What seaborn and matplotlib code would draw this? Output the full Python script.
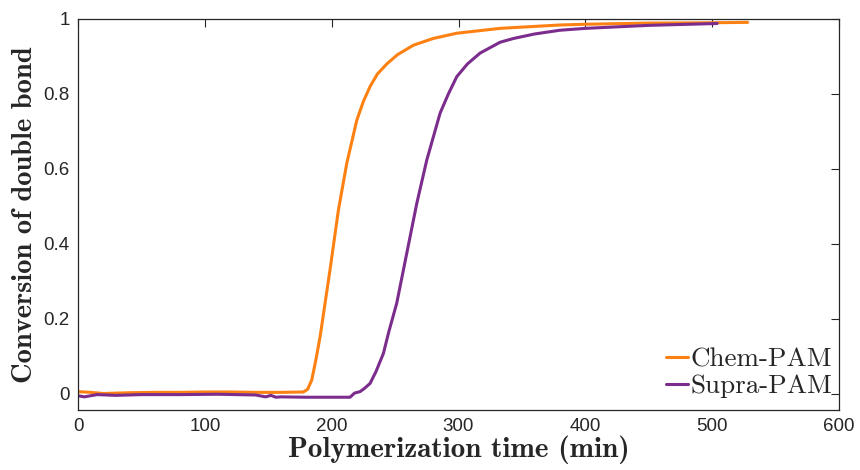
import numpy as np
import pandas as pd
import matplotlib
matplotlib.use('Agg')
import matplotlib.pyplot as plt
import seaborn as sns
from matplotlib.lines import Line2D

# ---------- data ----------
chem_time = [0, 10, 20, 40, 60, 80, 100, 120, 140, 160, 177.7, 181, 184.3, 187.5,
             190.9, 198.7, 205.3, 211.9, 219.8, 225, 230.3, 236, 243.4, 252, 264.4,
             280, 298.6, 332.8, 380, 400, 450, 500, 528]
chem_conv = [0.006, 0.004, 0.001, 0.003, 0.004, 0.004, 0.005, 0.005, 0.004, 0.004,
             0.005, 0.012, 0.037, 0.09, 0.153, 0.331, 0.49, 0.615, 0.73, 0.78,
             0.82, 0.853, 0.88, 0.905, 0.93, 0.948, 0.962, 0.975, 0.984, 0.986,
             0.989, 0.99, 0.991]

supra_time = [0, 5, 15, 30, 50, 80, 110, 140, 148, 152, 156, 160, 180, 200, 214.5,
              218, 222.4, 226, 230.3, 235, 240.8, 245, 251.3, 259.2, 267.1, 275,
              285.5, 292, 298.6, 307, 317, 332.8, 343.3, 360, 380, 400, 450, 504]
supra_conv = [-0.005, -0.008, -0.002, -0.004, -0.002, -0.002, -0.001, -0.003, -0.008,
              -0.004, -0.009, -0.008, -0.009, -0.009, -0.009, 0.002, 0.006, 0.015,
              0.028, 0.06, 0.108, 0.165, 0.242, 0.375, 0.508, 0.624, 0.749, 0.80,
              0.846, 0.88, 0.909, 0.938, 0.948, 0.96, 0.97, 0.975, 0.983, 0.988]

labels = ['Chem-PAM', 'Supra-PAM']
colors = ['#fd8112', '#7b2c8c']

df = pd.concat([
    pd.DataFrame({'time': chem_time, 'conv': chem_conv, 'sample': labels[0]}),
    pd.DataFrame({'time': supra_time, 'conv': supra_conv, 'sample': labels[1]}),
])

# ---------- plot ----------
sns.set_style('white')
plt.rcParams['font.family'] = ['Liberation Sans', 'DejaVu Sans']

fig = plt.figure(figsize=(8.6, 4.7), dpi=100)
ax = fig.add_axes([0.0907, 0.1277, 0.8849, 0.8319])

sns.lineplot(data=df, x='time', y='conv', hue='sample', palette=colors,
             estimator=None, sort=False, linewidth=2.2, ax=ax, legend=False)

ax.set_xlim(0, 600)
ax.set_ylim(-0.043, 1)
ax.set_xticks([0, 100, 200, 300, 400, 500, 600])
ax.set_yticks([0, 0.2, 0.4, 0.6, 0.8, 1])
ax.set_yticklabels(['0', '0.2', '0.4', '0.6', '0.8', '1'])
ax.tick_params(direction='in', length=5.5, width=0.8, top=True, right=True,
               labelsize=13.5, colors='#262626', pad=6)
for s in ax.spines.values():
    s.set_color('#262626')
    s.set_linewidth(0.9)

ax.set_xlabel('Polymerization time (min)', fontfamily='cmb10', fontsize=21,
              labelpad=0)
ax.set_ylabel('Conversion of double bond', fontfamily='cmb10', fontsize=20.5,
              labelpad=4)

handles = [Line2D([], [], color=c, lw=2.2) for c in colors]
ax.legend(handles, labels, loc='lower right', frameon=False,
          prop={'family': 'cmr10', 'size': 19.5}, handlelength=0.8,
          handletextpad=0.1, labelspacing=0.1, borderaxespad=0.0,
          borderpad=0.15, bbox_to_anchor=(0.997, 0.02))

fig.savefig('out.png', dpi=100)
